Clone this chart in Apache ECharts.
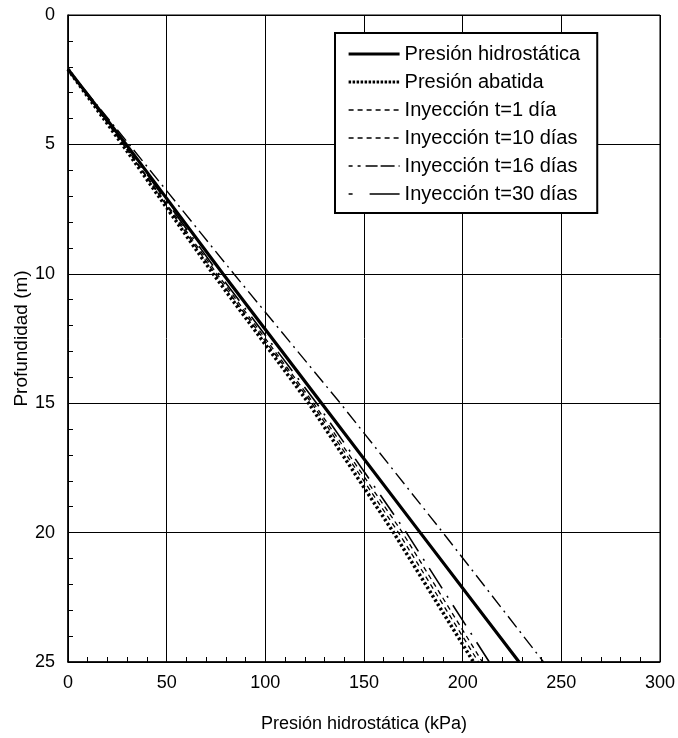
<!DOCTYPE html>
<html>
<head>
<meta charset="utf-8">
<script src="https://cdn.jsdelivr.net/npm/echarts@6/dist/echarts.min.js"></script>
<style>
html,body{margin:0;padding:0;background:#fff;}
#chart{width:678px;height:738px;}
</style>
</head>
<body>
<div id="chart"></div>
<script>
// Depths (m) at which pressures were read
var depths = [2.1, 5, 10, 15, 20, 25];
// Pressures (kPa) per series
var presHidro  = [0, 29.5, 78.5, 128.5, 178.5, 228.6];
var presAbat   = [0, 27.5, 73.5, 122, 165, 205.5];
var presT1     = [0, 28, 74.5, 123.5, 167.5, 208];
var presT10    = [0, 28.3, 75.5, 124.5, 169.5, 210];
var presT16    = [0, 31, 84, 138, 190, 241];
var presT30    = [0, 29, 76.5, 126, 171.5, 213.5];
var seriesNames = ['Presión hidrostática','Presión abatida','Inyección t=1 día','Inyección t=10 días','Inyección t=16 días','Inyección t=30 días'];
var xTicks = [0, 50, 100, 150, 200, 250, 300];
var yTicks = [0, 5, 10, 15, 20, 25];

var FONT = 'Liberation Sans, Arial, sans-serif';
function pairs(p){ return p.map(function(v,i){ return [v, depths[i]]; }); }
var allP = [presHidro, presAbat, presT1, presT10, presT16, presT30];
var styles = [
  {width:3.2, type:'solid'},
  {width:3.5, type:[2.5,2.5]},
  {width:1.3, type:[5,4]},
  {width:1.3, type:[5,4]},
  {width:1.4, type:[14,5,2,5]},
  {width:1.6, type:[24,9,2,9]}
];
var legendStyles = [
  {width:3.2, type:'solid'},
  {width:3, type:[2.5,1.5]},
  {width:1.5, type:[5,4]},
  {width:1.5, type:[5,4]},
  {width:1.5, type:[4,5,3,5,12,3,14,4]},
  {width:1.5, type:[4,17,30,10]}
];
var series = allP.map(function(p,i){
  return {
    name: seriesNames[i], type:'line', data: pairs(p), showSymbol:false, symbol:'none',
    lineStyle:{color:'#000', width:styles[i].width, type:styles[i].type},
    itemStyle:{color:'#000'}, z: 10-i, animation:false
  };
});

var chart = echarts.init(document.getElementById('chart'));
chart.setOption({
  animation:false,
  backgroundColor:'#fff',
  grid:{left:68, top:15, right:17, bottom:76, show:true, borderColor:'#000', borderWidth:1},
  legend:{
    orient:'vertical', left:335, top:33,
    data: seriesNames.map(function(n,i){
      return {name:n, lineStyle:{color:'#000', width:legendStyles[i].width, type:legendStyles[i].type}};
    }),
    backgroundColor:'#fff', borderColor:'#000', borderWidth:2,
    padding:[11,17,9,12],
    itemWidth:51, itemHeight:14, itemGap:8, itemTextGap:8,
    itemStyle:{opacity:0},
    textStyle:{fontFamily:FONT, fontSize:20, color:'#000', lineHeight:20}
  },
  xAxis:{
    type:'value', min:xTicks[0], max:xTicks[xTicks.length-1], interval:50,
    name:'Presión hidrostática (kPa)', nameLocation:'middle', nameGap:53,
    nameTextStyle:{fontFamily:FONT, fontSize:18, color:'#000'},
    axisLine:{onZero:false, lineStyle:{color:'#000', width:1.5}},
    axisTick:{show:true, inside:true, length:6, lineStyle:{color:'#000'}},
    minorTick:{show:true, splitNumber:5, length:5, lineStyle:{color:'#000'}},
    splitLine:{show:true, lineStyle:{color:'#000', width:1}},
    axisLabel:{fontFamily:FONT, fontSize:18, color:'#000', margin:12}
  },
  yAxis:{
    type:'value', inverse:true, min:yTicks[0], max:yTicks[yTicks.length-1], interval:5,
    name:'Profundidad (m)', nameLocation:'middle', nameGap:37, nameRotate:90,
    nameMoveOverlap:false,
    nameTextStyle:{fontFamily:FONT, fontSize:19, color:'#000'},
    axisLine:{onZero:false, lineStyle:{color:'#000', width:1.5}},
    axisTick:{show:true, inside:true, length:6, lineStyle:{color:'#000'}},
    minorTick:{show:true, splitNumber:5, length:5, lineStyle:{color:'#000'}},
    splitLine:{show:true, lineStyle:{color:'#000', width:1}},
    axisLabel:{fontFamily:FONT, fontSize:18, color:'#000', margin:13}
  },
  series: series
});
</script>
</body>
</html>
